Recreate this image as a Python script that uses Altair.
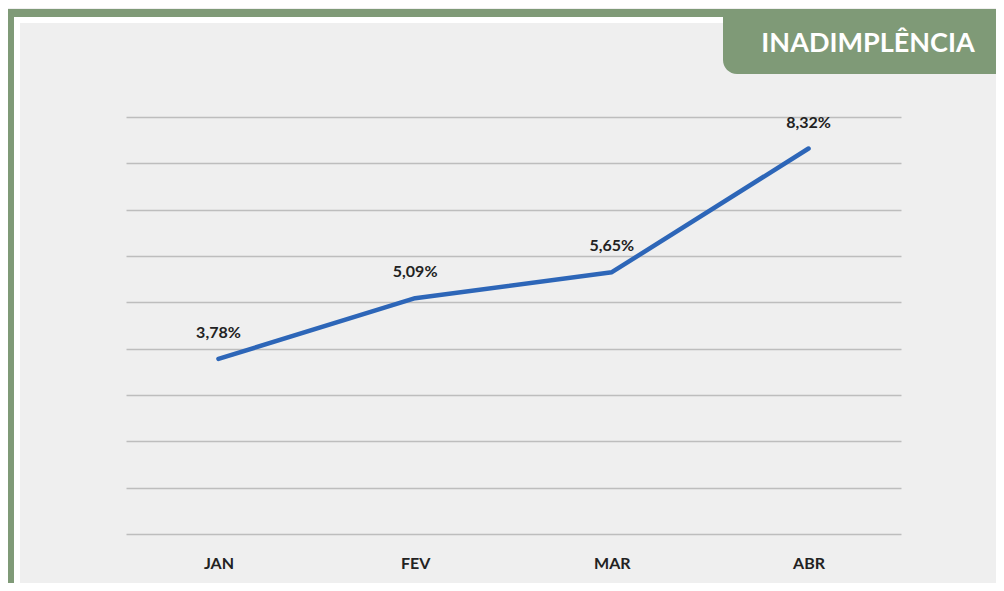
import altair as alt
import pandas as pd

months = ["JAN", "FEV", "MAR", "ABR"]
values = [3.78, 5.09, 5.65, 8.32]
labels = ["3,78%", "5,09%", "5,65%", "8,32%"]
y_ticks = list(range(0, 10))
title_text = "INADIMPLÊNCIA"

GREEN = "#7f9a77"
BLUE = "#2d66b8"
BG = "#efefef"
FONT = "Lato"

df = pd.DataFrame({"mes": months, "valor": values, "rotulo": labels})
one = pd.DataFrame({"k": [0]})

x_enc = alt.X("mes:N", sort=months, title=None,
              scale=alt.Scale(type="point", padding=0.47),
              axis=alt.Axis(domain=False, ticks=False, grid=False, labelAngle=0,
                            labelFontSize=16, labelFontWeight="bold", labelColor="#222222",
                            labelFont=FONT, labelPadding=21))
y_enc = alt.Y("valor:Q", title=None,
              scale=alt.Scale(domain=[0, 9], nice=False, zero=True),
              axis=alt.Axis(values=y_ticks, labels=False, ticks=False, domain=False,
                            grid=True, gridColor="#bdbdbd", gridWidth=1.3))

line = alt.Chart(df).mark_line(color=BLUE, strokeWidth=4.5, strokeCap="round",
                               strokeJoin="round").encode(x=x_enc, y=y_enc)
text = alt.Chart(df).mark_text(dy=-26, fontSize=16, fontWeight="bold", font=FONT,
                               color="#222222").encode(x=alt.X("mes:N", sort=months),
                                                        y="valor:Q", text="rotulo:N")

def box(x, x2, y, y2, color, **kw):
    return alt.Chart(one).mark_rect(color=color, **kw).encode(
        x=alt.value(x), x2=alt.value(x2), y=alt.value(y), y2=alt.value(y2))

frame = [
    box(-118, 870, -108, -100, GREEN),
    box(-118, -112, -108, 466, GREEN),
    box(-112, 870, -100, -94, "white"),
    box(-112, -106, -100, 466, "white"),
    box(597, 870, -100, -43, GREEN, cornerRadiusBottomLeft=14),
]
title = alt.Chart(one).mark_text(text=title_text, fontSize=27, fontWeight="bold",
                                 font=FONT, color="white", align="center",
                                 baseline="middle").encode(x=alt.value(742), y=alt.value(-73))

chart = alt.layer(*frame, title, line, text).properties(
    width=775, height=417,
    autosize=alt.AutoSizeParams(type="none"),
    padding={"left": 118, "top": 109, "right": 95, "bottom": 49},
    background=BG,
).configure_view(stroke=None)

chart.save("out.html", embed_options={"renderer": "svg", "actions": False})
